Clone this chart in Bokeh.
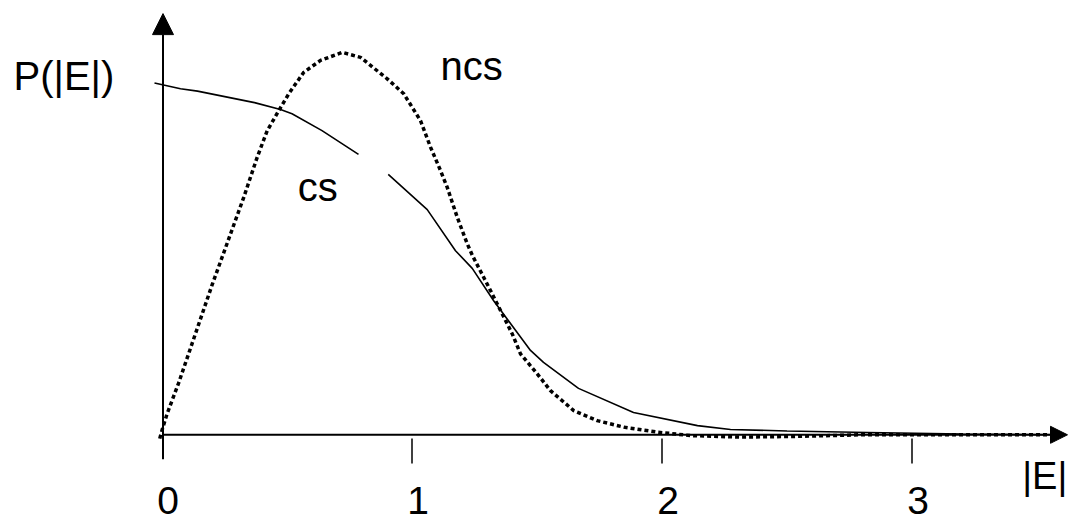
import numpy as np
from bokeh.plotting import figure
from bokeh.models import Range1d, Arrow, NormalHead
from bokeh.core.properties import value
from bokeh.embed import file_html
from bokeh.resources import INLINE

# ---- data ----
# "cs" curve (solid); NaN marks the small gap in the drawn line
E_cs = [-0.03, 0.074, 0.142, 0.37, 0.474, 0.52, 0.64, 0.786, np.nan,
        0.905, 1.061, 1.174, 1.241, 1.326, 1.474, 1.526, 1.666, 1.886,
        2.142, 2.274, 2.50, 2.822, 3.20, 3.614]
P_cs = [0.917, 0.902, 0.896, 0.866, 0.848, 0.837, 0.793, 0.731, np.nan,
        0.679, 0.587, 0.480, 0.434, 0.350, 0.220, 0.189, 0.121, 0.058,
        0.024, 0.014, 0.010, 0.006, 0.002, 0.0]

# "ncs" curve (dotted)
E_ncs = [-0.009, 0.001, 0.021, 0.066, 0.20, 0.327, 0.381, 0.421, 0.467,
         0.507, 0.567, 0.634, 0.721, 0.794, 0.901, 0.967, 1.034, 1.074,
         1.114, 1.141, 1.181, 1.221, 1.242, 1.314, 1.354, 1.401, 1.434,
         1.501, 1.554, 1.647, 1.741, 1.847, 1.981, 2.114, 2.314, 2.554,
         2.794, 3.594]
P_ncs = [-0.010, 0.014, 0.056, 0.134, 0.39, 0.619, 0.724, 0.793, 0.845,
         0.889, 0.945, 0.976, 0.997, 0.984, 0.928, 0.889, 0.819, 0.750,
         0.689, 0.645, 0.567, 0.498, 0.467, 0.376, 0.324, 0.263, 0.211,
         0.159, 0.115, 0.063, 0.037, 0.020, 0.007, -0.002, -0.006, -0.004,
         0.0, 0.0]

tick_values = [1, 2, 3]
tick_labels = ["0", "1", "2", "3"]
tick_label_pos = [0, 1, 2, 3]

FONT = "Liberation Sans"
PX = 383.6          # pixels per unit of P
Y0 = 434.3          # pixel row of P = 0
SHIFT = 16          # baseline correction in pixels


def py(pix):
    """pixel row of a text baseline -> data y"""
    return (Y0 - pix + SHIFT) / PX


p = figure(width=1069, height=520, output_backend="svg", toolbar_location=None,
           x_range=Range1d(-0.646, 3.630), y_range=Range1d(-0.2234, 1.1322),
           x_axis_location=None, y_axis_location=None, min_border=0,
           outline_line_color=None, background_fill_color="white",
           border_fill_color="white")
p.grid.visible = False

# axes with arrow heads
p.add_layout(Arrow(end=NormalHead(size=17, fill_color="black", line_color="black"),
                   x_start=0.0, y_start=0.0, x_end=3.622, y_end=0.0,
                   line_color="black", line_width=2))
p.add_layout(Arrow(end=NormalHead(size=21, fill_color="black", line_color="black"),
                   x_start=0.004, y_start=-0.064, x_end=0.004, y_end=1.098,
                   line_color="black", line_width=2))

# tick marks
p.segment(x0=tick_values, y0=[-0.0096] * len(tick_values),
          x1=tick_values, y1=[-0.0748] * len(tick_values),
          line_color="black", line_width=1.5)

# tick labels
p.text(x=tick_label_pos, y=[py(516)] * len(tick_label_pos), text=tick_labels,
       x_offset=6, text_align="center", text_baseline="alphabetic",
       text_font=value(FONT), text_font_size="39px", text_color="black")

# curves
p.line(E_cs, P_cs, line_color="black", line_width=1.6)
p.line(E_ncs, P_ncs, line_color="black", line_width=3.5, line_dash="4 3")

# annotations
p.text(x=[-0.646], y=[py(91.5)], text=["P(|E|)"], x_offset=13,
       text_align="left", text_baseline="alphabetic",
       text_font=value(FONT), text_font_size="40px", text_color="black")
p.text(x=[(440 - 161.5) / 250], y=[py(81.7)], text=["ncs"],
       text_align="left", text_baseline="alphabetic",
       text_font=value(FONT), text_font_size="40px", text_color="black")
p.text(x=[(297.3 - 161.5) / 250], y=[py(202.3)], text=["cs"],
       text_align="left", text_baseline="alphabetic",
       text_font=value(FONT), text_font_size="40px", text_color="black")
p.text(x=[(1021.7 - 161.5) / 250], y=[py(491.7)], text=["|E|"],
       text_align="left", text_baseline="alphabetic",
       text_font=value(FONT), text_font_size="38px", text_color="black")

open("out.html", "w").write(file_html(p, INLINE))
